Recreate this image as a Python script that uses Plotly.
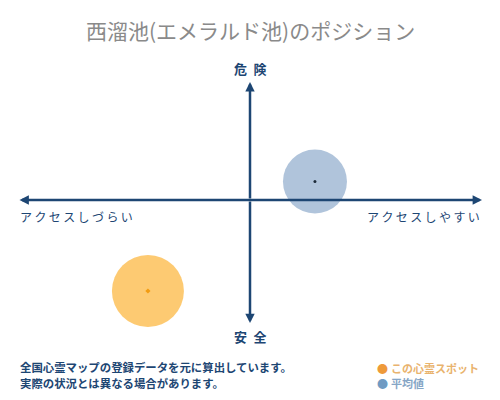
import plotly.graph_objects as go

# ---- data ----
series_names = ["この心霊スポット", "平均値"]
access_values = [-0.44, 0.28]      # x: アクセスしづらい(-) ... アクセスしやすい(+)
danger_values = [-0.74, 0.15]      # y: 安全(-) ... 危険(+)
axis_labels = {"top": "危険", "bottom": "安全", "left": "アクセスしづらい", "right": "アクセスしやすい"}
title_text = "西溜池(エメラルド池)のポジション"
footer_lines = ["全国心霊マップの登録データを元に算出しています。", "実際の状況とは異なる場合があります。"]

# ---- style ----
OFF = 8                      # page body margin
W, H = 500 - OFF, 400 - OFF
L, R, T, B = 18 - OFF, 18, 82 - OFF, 77
FONT = "Noto Sans CJK JP"
NAVY = "#1d4673"
fill_colors = ["#fdca72", "#b0c4db"]
dot_colors = ["#f39c12", "#1d2b3a"]
legend_dot_colors = ["#ee9a3a", "#6f9bc3"]
legend_text_colors = ["#e9b36e", "#86a6c6"]
marker_sizes = [72, 64]

X_RANGE = [-1.0, 1.0]
Y_RANGE = [-1.0, 118 / 123]

def px(xp):
    return (xp - OFF - L) / (W - L - R)

def py(yp):
    return (H - B - (yp - OFF)) / (H - T - B)

fig = go.Figure()
for i in range(2):
    fig.add_trace(go.Scatter(
        x=[access_values[i]], y=[danger_values[i]], mode="markers", cliponaxis=False,
        marker=dict(size=marker_sizes[i], color=fill_colors[i], line=dict(width=0)),
        hoverinfo="skip", showlegend=False))
for i in range(2):
    fig.add_trace(go.Scatter(
        x=[access_values[i]], y=[danger_values[i]], mode="markers", cliponaxis=False,
        marker=dict(size=4 if i == 0 else 3, color=dot_colors[i],
                    symbol="diamond" if i == 0 else "circle"),
        hoverinfo="skip", showlegend=False))

ann = []
AS = 0.75
ann.append(dict(x=X_RANGE[1], y=0, ax=X_RANGE[0], ay=0, xref="x", yref="y", axref="x", ayref="y",
                showarrow=True, arrowhead=2, startarrowhead=2, arrowside="end+start",
                arrowsize=AS, startarrowsize=AS, arrowwidth=2.5, arrowcolor=NAVY, text=""))
ann.append(dict(x=0, y=Y_RANGE[1], ax=0, ay=0, xref="x", yref="y", axref="x", ayref="y",
                showarrow=True, arrowhead=2, arrowsize=AS, arrowwidth=2.5, arrowcolor=NAVY, text=""))
ann.append(dict(x=0, y=Y_RANGE[0], ax=0, ay=0, xref="x", yref="y", axref="x", ayref="y",
                showarrow=True, arrowhead=2, arrowsize=AS, arrowwidth=2.5, arrowcolor=NAVY, text=""))

def label(text, x, y, size, color, xanchor="center", bold=False):
    t = f"<b>{text}</b>" if bold else text
    ann.append(dict(text=t, x=px(x), y=py(y), xref="paper", yref="paper", xanchor=xanchor,
                    yanchor="middle", showarrow=False, font=dict(family=FONT, size=size, color=color)))

label(title_text, 250, 30, 21, "#8a8a8a")
label("\u2002".join(axis_labels["top"]), 250, 68, 13, NAVY, bold=True)
label("\u2002".join(axis_labels["bottom"]), 250, 336, 13, NAVY, bold=True)
label("\u2009".join(axis_labels["left"]), 18, 216, 12, NAVY, xanchor="left")
label("\u2009".join(axis_labels["right"]), 482, 216, 12, NAVY, xanchor="right")
label(footer_lines[0], 18, 367, 11.4, NAVY, xanchor="left", bold=True)
label(footer_lines[1], 18, 383, 11.4, NAVY, xanchor="left", bold=True)
for i, yy in enumerate([368, 383]):
    label("●", 382, yy, 11, legend_dot_colors[i])
    label(series_names[i], 389, yy, 11, legend_text_colors[i], xanchor="left", bold=True)

fig.update_layout(
    width=W, height=H, margin=dict(l=L, r=R, t=T, b=B),
    paper_bgcolor="white", plot_bgcolor="white",
    xaxis=dict(range=X_RANGE, visible=False, fixedrange=True),
    yaxis=dict(range=Y_RANGE, visible=False, fixedrange=True),
    annotations=ann, showlegend=False,
)
fig.write_html("out.html")
